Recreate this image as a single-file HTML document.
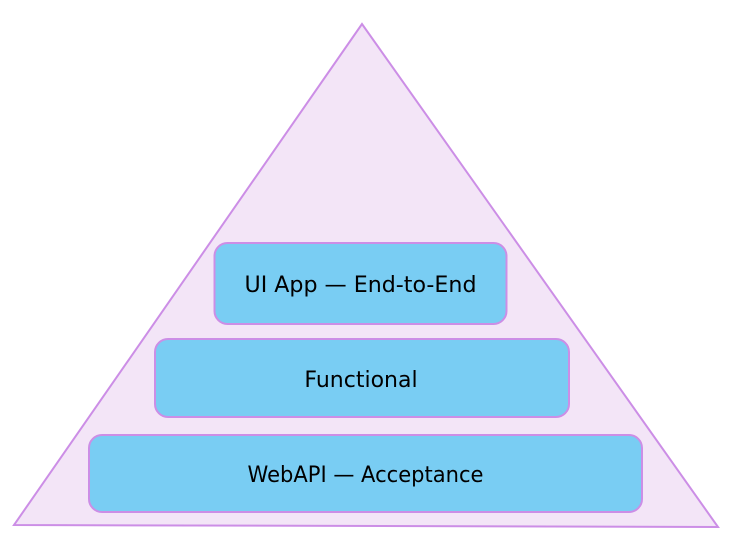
<!DOCTYPE html>
<html><head><meta charset="utf-8"><style>
html,body{margin:0;padding:0;background:#fff;width:750px;height:558px;overflow:hidden}
text{font-family:"DejaVu Sans","Liberation Sans",sans-serif;font-size:22px}
</style></head><body>
<svg width="750" height="558" viewBox="0 0 750 558" xmlns="http://www.w3.org/2000/svg">
<polygon points="362,24 14,525 718,527" fill="#f3e5f7" stroke="#cc8ee6" stroke-width="2" stroke-linejoin="miter"/>
<g fill="#79cdf3" stroke="#cc8ee6" stroke-width="2">
<rect x="214.5" y="243" width="292" height="81" rx="13"/>
<rect x="155" y="339" width="414" height="78" rx="13"/>
<rect x="89" y="435" width="553" height="77" rx="13"/>
</g>
<g fill="#000" text-anchor="middle">
<text x="360.5" y="292" textLength="232" lengthAdjust="spacingAndGlyphs">UI App — End-to-End</text>
<text x="361" y="387">Functional</text>
<text x="365.5" y="482" textLength="236" lengthAdjust="spacingAndGlyphs">WebAPI — Acceptance</text>
</g>
</svg>
</body></html>
